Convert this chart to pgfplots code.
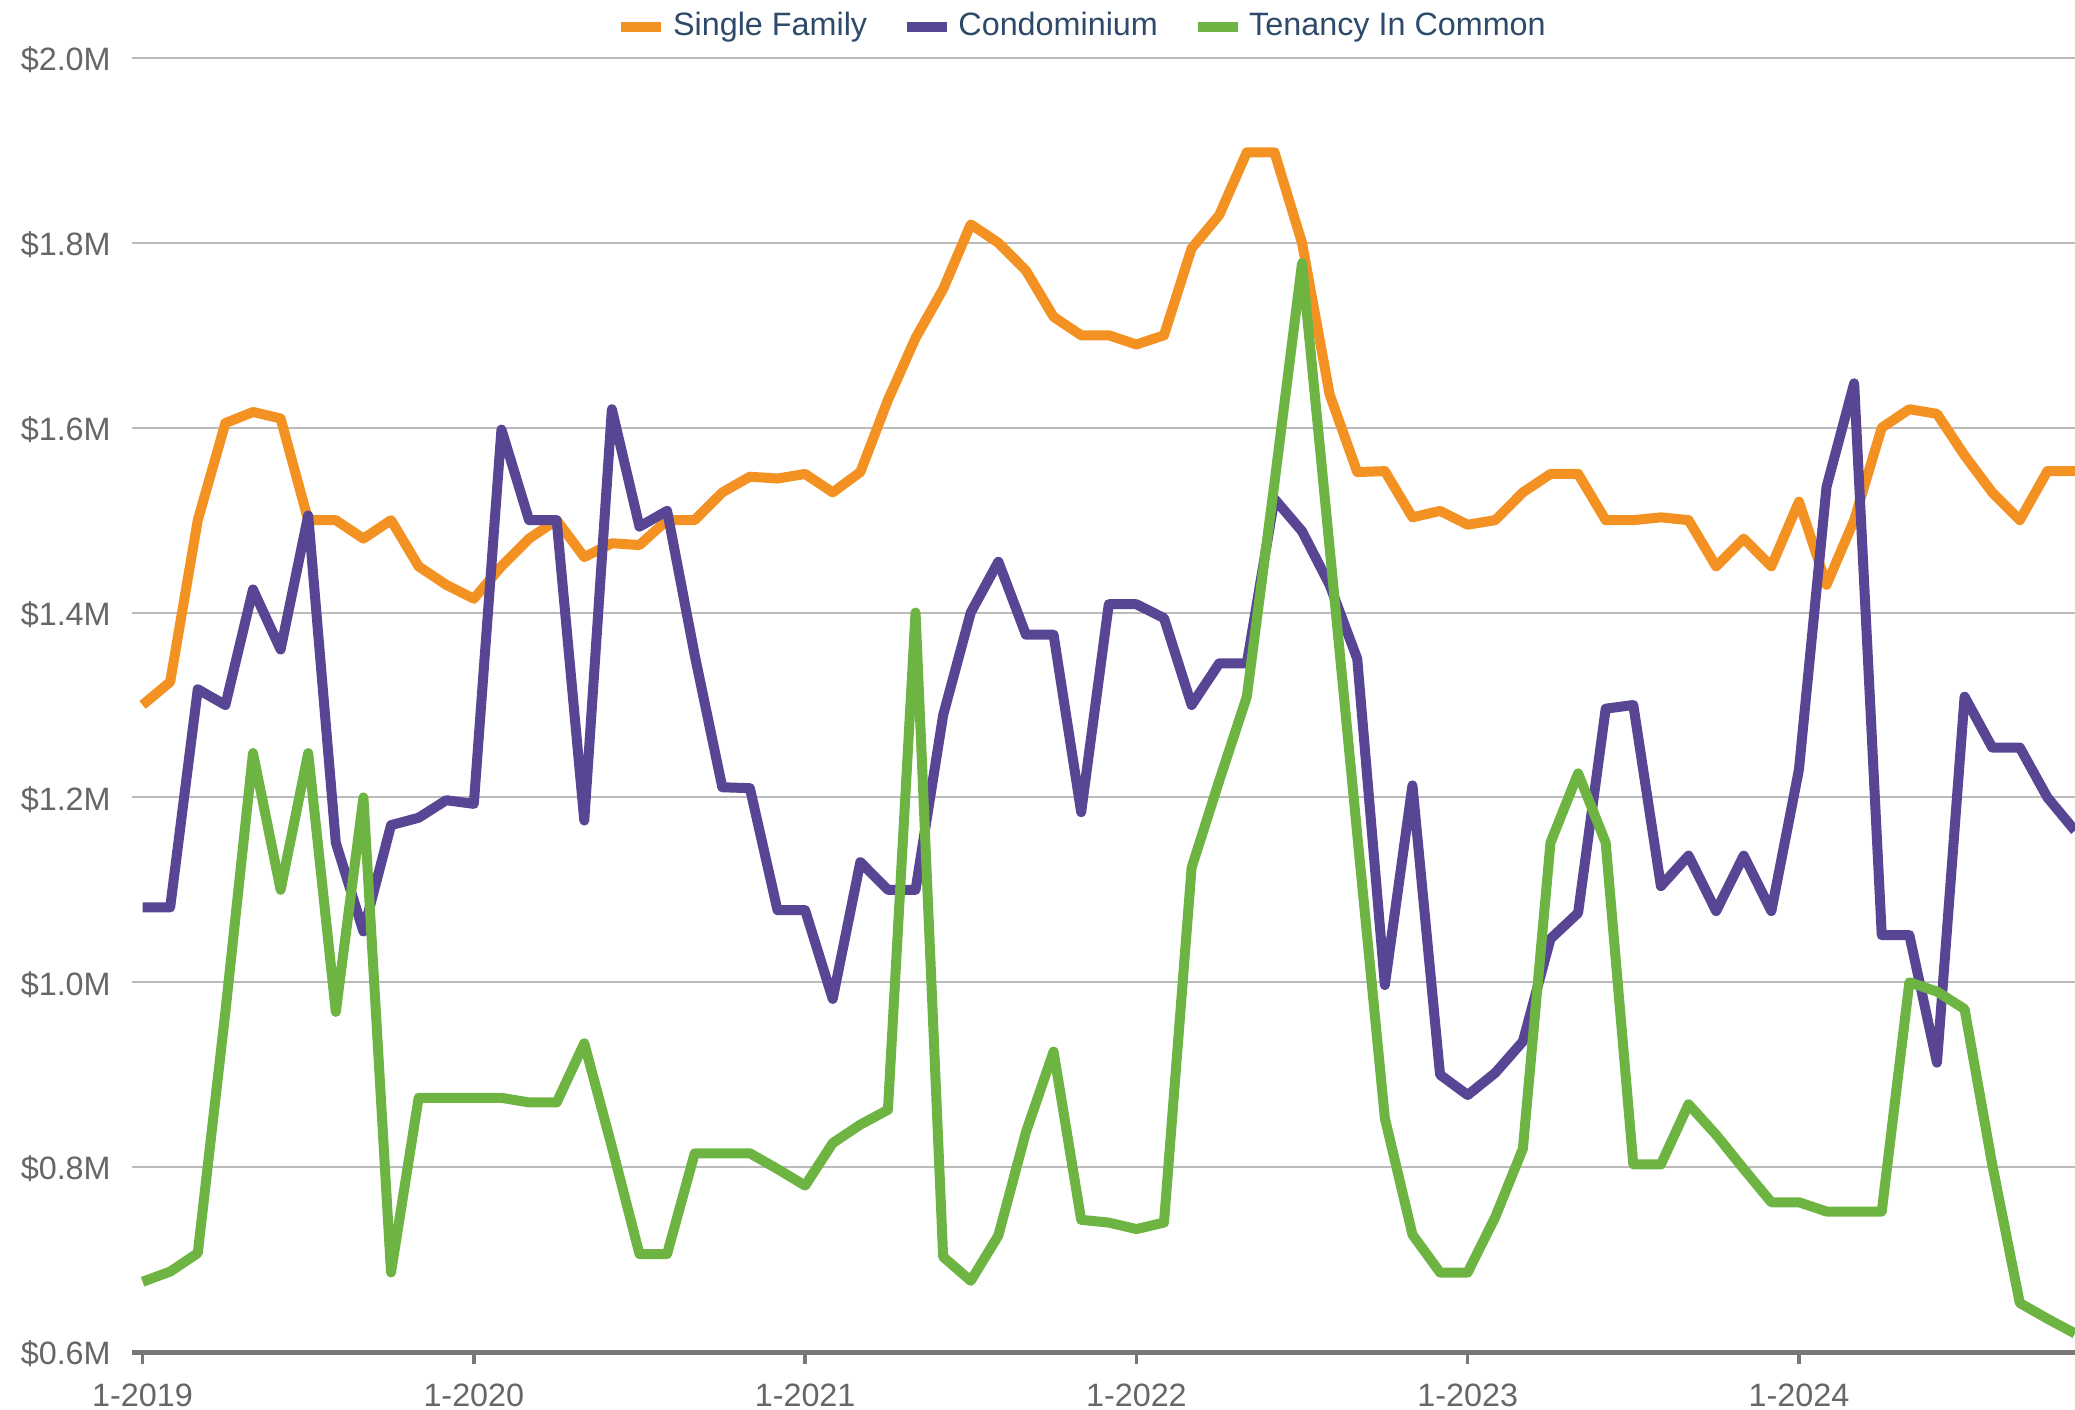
\documentclass[border=0pt]{standalone}
\usepackage{fontspec}
\setmainfont{Liberation Sans}
\usepackage{pgfplots}
\usepackage{pgfplotstable}
\pgfplotsset{compat=1.18}
\definecolor{sfOrange}{HTML}{F39223}
\definecolor{condoPurple}{HTML}{584594}
\definecolor{ticGreen}{HTML}{6DB443}
\definecolor{tickGray}{HTML}{666666}
\definecolor{legendBlue}{HTML}{2E4A6B}
\definecolor{axisGray}{HTML}{777777}
\definecolor{gridGray}{HTML}{BBBBBB}

\pgfplotstableread{
m sf condo tic
0 1.300 1.081 0.676
1 1.325 1.081 0.687
2 1.500 1.317 0.707
3 1.605 1.300 0.968
4 1.617 1.425 1.248
5 1.610 1.360 1.100
6 1.500 1.505 1.248
7 1.500 1.151 0.968
8 1.480 1.055 1.200
9 1.500 1.170 0.686
10 1.450 1.178 0.875
11 1.430 1.197 0.875
12 1.415 1.193 0.875
13 1.450 1.598 0.875
14 1.480 1.500 0.870
15 1.500 1.500 0.870
16 1.460 1.175 0.934
17 1.475 1.620 0.822
18 1.473 1.493 0.706
19 1.500 1.510 0.706
20 1.500 1.354 0.815
21 1.530 1.211 0.815
22 1.547 1.210 0.815
23 1.545 1.078 0.798
24 1.550 1.078 0.780
25 1.530 0.982 0.826
26 1.552 1.130 0.846
27 1.630 1.100 0.862
28 1.697 1.100 1.400
29 1.750 1.289 0.703
30 1.820 1.400 0.677
31 1.800 1.455 0.726
32 1.770 1.376 0.838
33 1.720 1.376 0.925
34 1.700 1.184 0.743
35 1.700 1.409 0.740
36 1.690 1.409 0.733
37 1.700 1.394 0.740
38 1.794 1.300 1.124
39 1.830 1.345 1.218
40 1.898 1.345 1.309
41 1.898 1.523 1.540
42 1.800 1.488 1.778
43 1.636 1.430 1.470
44 1.552 1.350 1.160
45 1.553 0.997 0.853
46 1.503 1.213 0.727
47 1.510 0.900 0.686
48 1.495 0.878 0.686
49 1.500 0.902 0.746
50 1.530 0.936 0.820
51 1.550 1.047 1.151
52 1.550 1.075 1.226
53 1.500 1.296 1.151
54 1.500 1.300 0.803
55 1.503 1.104 0.803
56 1.500 1.137 0.868
57 1.450 1.077 0.835
58 1.480 1.137 0.798
59 1.450 1.077 0.762
60 1.520 1.230 0.762
61 1.430 1.536 0.752
62 1.500 1.648 0.752
63 1.600 1.051 0.752
64 1.620 1.051 1.000
65 1.615 0.913 0.990
66 1.570 1.309 0.971
67 1.530 1.254 0.803
68 1.500 1.254 0.653
69 1.553 1.200 0.636
70 1.553 1.164 0.620
}\datatable

\begin{document}
\begin{tikzpicture}
\begin{axis}[
  at={(0,0)}, anchor=south west,
  scale only axis, width=582.9bp, height=388.2bp,
  xmin=-0.383, xmax=70, ymin=0.6, ymax=2.0,
  axis x line*=bottom, axis y line*=left,
  x axis line style={draw=axisGray, line width=1.5bp, -},
  y axis line style={draw=none},
  xtick={0,12,24,36,48,60},
  xticklabels={1-2019,1-2020,1-2021,1-2022,1-2023,1-2024},
  ytick={0.6,0.8,1.0,1.2,1.4,1.6,1.8,2.0},
  yticklabels={\$0.6M,\$0.8M,\$1.0M,\$1.2M,\$1.4M,\$1.6M,\$1.8M,\$2.0M},
  ymajorgrids,
  grid style={draw=gridGray, line width=0.6bp},
  tick align=outside, tick pos=left,
  major tick length=3.6bp,
  xtick style={draw=axisGray, line width=1bp},
  ytick style={draw=none},
  xticklabel style={font=\fontsize{9.7bp}{11bp}\selectfont, text=tickGray, anchor=north, inner sep=0pt, yshift=-5.8bp},
  yticklabel style={font=\fontsize{9.7bp}{11bp}\selectfont, text=tickGray, anchor=east, inner sep=0pt, xshift=-2.6bp, yshift=-0.6bp},
  legend columns=3,
  legend style={at={(0.249,1)}, anchor=west, yshift=9.4bp, draw=none, fill=none, inner sep=0pt,
    font=\fontsize{9.7bp}{11bp}\selectfont, text=legendBlue,
    /tikz/every even column/.append style={column sep=8.4bp}},
  legend image code/.code={\draw[#1, line width=3bp, line cap=butt] (0bp,0bp) -- (12bp,0bp);},
  every axis plot/.append style={line width=3bp, line join=round, mark=none},
]
\addplot[color=sfOrange] table[x=m, y=sf] {\datatable};
\addlegendentry{Single Family}
\addplot[color=condoPurple] table[x=m, y=condo] {\datatable};
\addlegendentry{Condominium}
\addplot[color=ticGreen] table[x=m, y=tic] {\datatable};
\addlegendentry{Tenancy In Common}
\end{axis}
\pgfresetboundingbox
\useasboundingbox (-39.6bp,-17.4bp) rectangle (582.9bp,405.6bp);
\end{tikzpicture}
\end{document}
